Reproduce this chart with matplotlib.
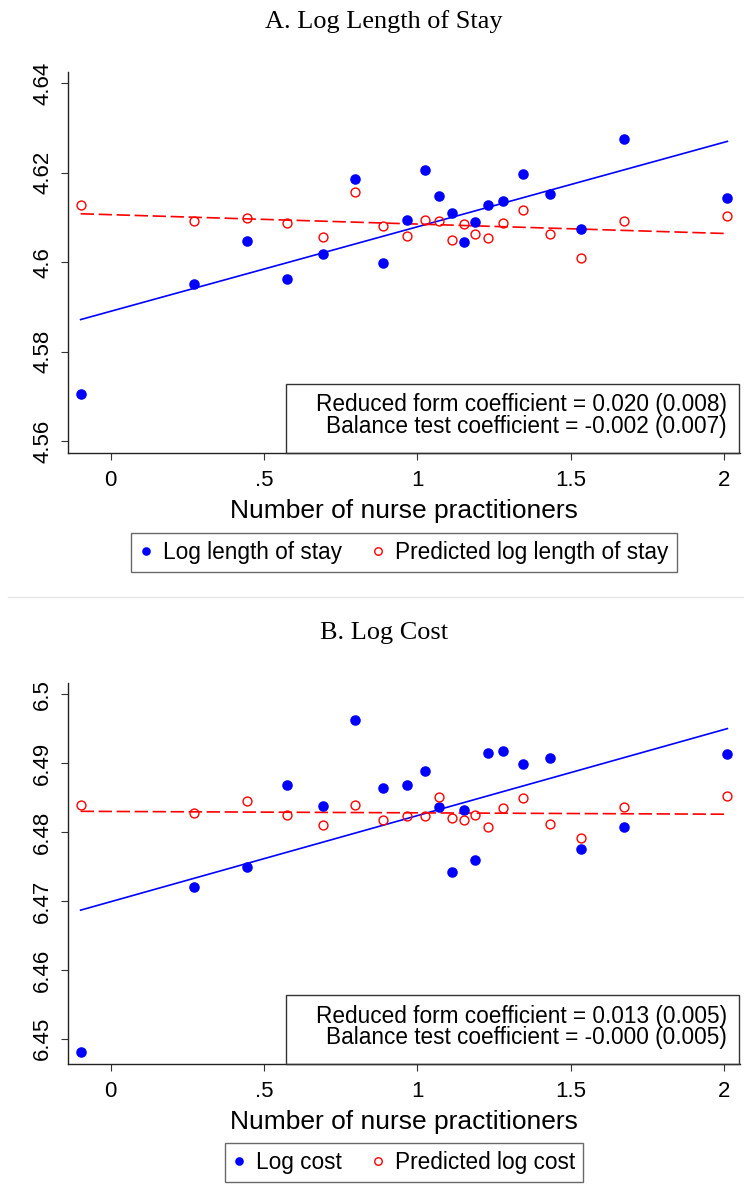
import numpy as np
import matplotlib
matplotlib.use('Agg')
import matplotlib.pyplot as plt
from matplotlib.patches import Rectangle
from matplotlib.lines import Line2D

plt.rcParams['font.family'] = ['Liberation Sans', 'DejaVu Sans']

# binned means by number of nurse practitioners
nps = [-0.098, 0.273, 0.444, 0.575, 0.692, 0.796, 0.886, 0.965, 1.023, 1.071,
       1.113, 1.150, 1.187, 1.229, 1.280, 1.343, 1.431, 1.534, 1.673, 2.010]

los = [4.5706, 4.5950, 4.6048, 4.5962, 4.6019, 4.6186, 4.5998, 4.6093, 4.6206, 4.6147,
       4.6110, 4.6044, 4.6089, 4.6128, 4.6137, 4.6198, 4.6152, 4.6073, 4.6275, 4.6144]
los_pred = [4.6128, 4.6092, 4.6098, 4.6087, 4.6056, 4.6156, 4.6081, 4.6059, 4.6095, 4.6092,
            4.6050, 4.6086, 4.6063, 4.6053, 4.6087, 4.6116, 4.6062, 4.6010, 4.6092, 4.6102]

cost = [6.4481, 6.4720, 6.4750, 6.4868, 6.4838, 6.4963, 6.4864, 6.4868, 6.4889, 6.4836,
        6.4742, 6.4832, 6.4760, 6.4915, 6.4918, 6.4899, 6.4908, 6.4776, 6.4807, 6.4913]
cost_pred = [6.4840, 6.4828, 6.4845, 6.4825, 6.4811, 6.4840, 6.4817, 6.4824, 6.4823, 6.4851,
             6.4821, 6.4817, 6.4825, 6.4807, 6.4835, 6.4850, 6.4812, 6.4792, 6.4836, 6.4853]

# linear fits (intercept, slope)
los_fit = (4.5890, 0.0189)
los_pred_fit = (4.6106, -0.0021)
cost_fit = (6.4699, 0.0125)
cost_pred_fit = (6.4830, -0.0002)

xticks = [0, 0.5, 1, 1.5, 2]
xticklabels = ['0', '.5', '1', '1.5', '2']
los_yticks = [4.56, 4.58, 4.60, 4.62, 4.64]
los_yticklabels = ['4.56', '4.58', '4.6', '4.62', '4.64']
cost_yticks = [6.45, 6.46, 6.47, 6.48, 6.49, 6.50]
cost_yticklabels = ['6.45', '6.46', '6.47', '6.48', '6.49', '6.5']

W, H = 744, 1201
fig = plt.figure(figsize=(W / 100, H / 100), dpi=100)


def fx(px):
    return px / W


def fy(px):
    return 1 - px / H


def panel(top, bottom, y, ypred, fit, pfit, ylim, yticks, yticklabels,
          title, labels, coefs, leg_y):
    ax = fig.add_axes([fx(68.3), fy(bottom), fx(740) - fx(68.3), fy(top) - fy(bottom)])
    x = np.array(nps)
    ax.plot(x, y, 'o', color='#0000ff', ms=7.6, mew=0, zorder=3)
    ax.plot(x, ypred, 'o', mfc='none', mec='#ff0000', ms=6.4, mew=1.0, zorder=3)
    xx = np.array([x.min(), x.max()])
    ax.plot(xx, fit[0] + fit[1] * xx, '-', color='#0000ff', lw=1.2)
    ax.plot(xx, pfit[0] + pfit[1] * xx, '--', color='#ff0000', lw=1.2, dashes=(8, 2.8))

    ax.set_xlim(-0.1382, 2.0512)
    ax.set_ylim(*ylim)
    ax.set_xticks(xticks)
    ax.set_xticklabels(xticklabels)
    ax.set_yticks(yticks)
    ax.set_yticklabels(yticklabels, rotation=90, va='center')
    ax.tick_params(axis='both', labelsize=16, length=5, width=0.8, color='#333333')
    ax.tick_params(axis='y', pad=6)
    ax.tick_params(axis='x', pad=7)
    for s in ['top', 'right']:
        ax.spines[s].set_visible(False)
    for s in ['left', 'bottom']:
        ax.spines[s].set_linewidth(1.0)
        ax.spines[s].set_color('#222222')
    ax.set_xlabel('Number of nurse practitioners', fontsize=19, labelpad=6)

    # coefficient box in the lower right corner
    ax.add_patch(Rectangle((0.3237, 0), 0.9985 - 0.3237, 0.181, transform=ax.transAxes,
                           fill=False, ec='#333333', lw=1.0, clip_on=False, zorder=4))
    ax.text(0.9802, 0.1267, coefs[0], transform=ax.transAxes, ha='right', va='center',
            fontsize=16.3)
    ax.text(0.9802, 0.0698, coefs[1], transform=ax.transAxes, ha='right', va='center',
            fontsize=16.3)

    fig.text(fx(383.8), fy(top - 44), title, ha='center', va='baseline',
             family=['Liberation Serif', 'DejaVu Serif'], fontsize=18.9)

    handles = [Line2D([], [], ls='none', marker='o', color='#0000ff', ms=6.2, mew=0),
               Line2D([], [], ls='none', marker='o', mfc='none', mec='#ff0000', ms=5.4, mew=1.0)]
    leg = ax.legend(handles, labels, loc='center', ncol=2, fontsize=16.3,
                    bbox_to_anchor=(fx(404), fy(leg_y)), bbox_transform=fig.transFigure,
                    frameon=True, fancybox=False, handlelength=0.6, handletextpad=0.45,
                    columnspacing=1.3, borderpad=0.35)
    leg.get_frame().set_edgecolor('#444444')
    leg.get_frame().set_linewidth(1.0)
    return ax


panel(72, 453.3, los, los_pred, los_fit, los_pred_fit, (4.55725, 4.6425),
      los_yticks, los_yticklabels, 'A. Log Length of Stay',
      ['Log length of stay', 'Predicted log length of stay'],
      ['Reduced form coefficient = 0.020 (0.008)',
       'Balance test coefficient = -0.002 (0.007)'], 552.5)

panel(683.3, 1064.3, cost, cost_pred, cost_fit, cost_pred_fit, (6.4463, 6.5016),
      cost_yticks, cost_yticklabels, 'B. Log Cost',
      ['Log cost', 'Predicted log cost'],
      ['Reduced form coefficient = 0.013 (0.005)',
       'Balance test coefficient = -0.000 (0.005)'], 1162.5)

# thin divider between the two graphs
fig.add_artist(Line2D([fx(8), 1], [fy(597.5), fy(597.5)], color='#e6e6e6', lw=1.0))

fig.savefig('out.png', dpi=100)
